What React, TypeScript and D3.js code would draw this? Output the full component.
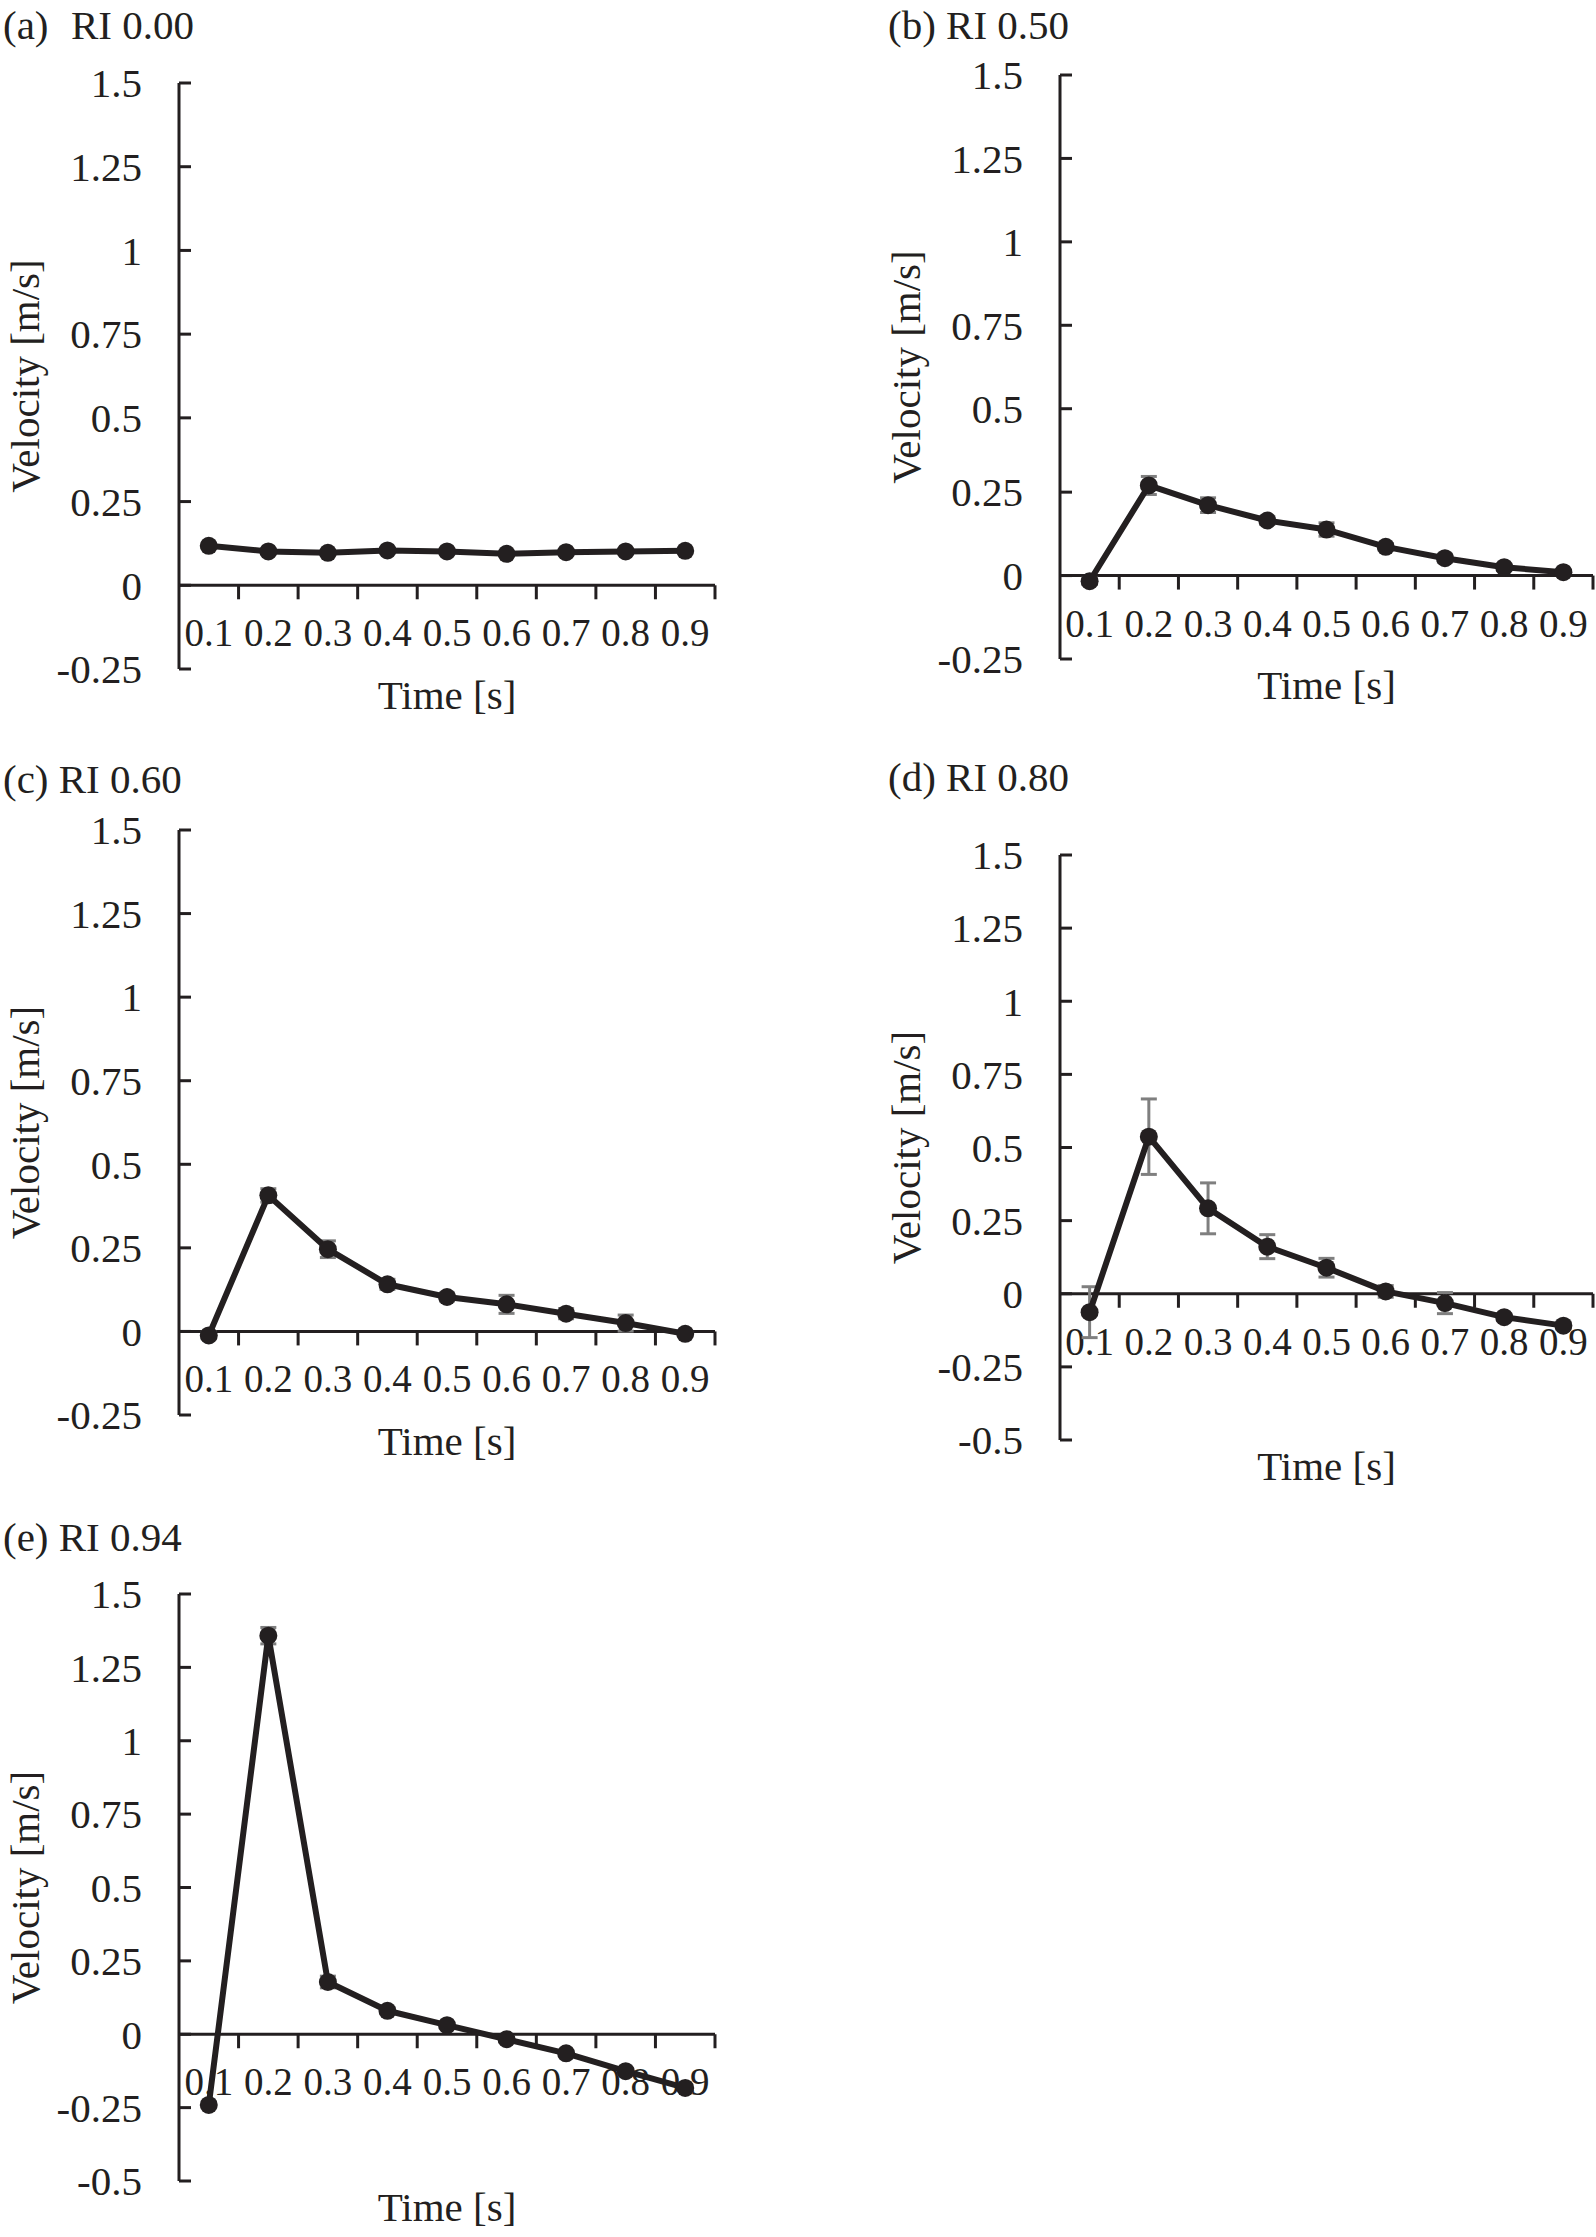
import * as d3 from 'd3';

const timeLabels = ['0.1', '0.2', '0.3', '0.4', '0.5', '0.6', '0.7', '0.8', '0.9'];

// mean velocity per panel [m/s]
const velA = [0.118, 0.101, 0.097, 0.104, 0.101, 0.094, 0.099, 0.101, 0.103];
const velB = [-0.017, 0.27, 0.211, 0.165, 0.138, 0.086, 0.052, 0.025, 0.01];
const velC = [-0.012, 0.407, 0.246, 0.141, 0.103, 0.081, 0.053, 0.025, -0.007];
const velD = [-0.063, 0.537, 0.292, 0.161, 0.089, 0.008, -0.032, -0.08, -0.109];
const velE = [-0.241, 1.358, 0.178, 0.08, 0.031, -0.017, -0.065, -0.126, -0.183];

// error bar half-lengths
const errA = [0.005, 0.005, 0.005, 0.005, 0.005, 0.005, 0.005, 0.005, 0.005];
const errB = [0.01, 0.027, 0.022, 0.012, 0.02, 0.01, 0.012, 0.01, 0.005];
const errC = [0.01, 0.02, 0.025, 0.015, 0.012, 0.027, 0.015, 0.024, 0.005];
const errD = [0.087, 0.129, 0.087, 0.041, 0.032, 0.02, 0.036, 0.012, 0.012];
const errE = [0.01, 0.028, 0.02, 0.01, 0.008, 0.008, 0.008, 0.01, 0.01];

const ticksShort = [-0.25, 0, 0.25, 0.5, 0.75, 1, 1.25, 1.5];
const ticksLong = [-0.5, -0.25, 0, 0.25, 0.5, 0.75, 1, 1.25, 1.5];

const titles = ['(a)', '(b) RI 0.50', '(c) RI 0.60', '(d) RI 0.80', '(e) RI 0.94'];

const INK = '#231f20';
const FONT = "'Liberation Serif', 'Times New Roman', Times, serif";

interface PanelProps {
  vals: number[];
  errs: number[];
  ticks: number[];
  left: number;
  right: number;
  top: number;
  bottom: number;
  title: string;
  titleX: number;
  titleY: number;
  extraTitle?: string;
}

function Panel({ vals, errs, ticks, left, right, top, bottom, title, titleX, titleY, extraTitle }: PanelProps) {
  const x = d3.scaleBand<string>().domain(timeLabels).range([left, right]).padding(0);
  const y = d3.scaleLinear().domain([ticks[0], 1.5]).range([bottom, top]);
  const cx = (i: number) => (x(timeLabels[i]) ?? 0) + x.bandwidth() / 2;
  const line = d3.line<number>().x((_, i) => cx(i)).y(d => y(d));
  const y0 = y(0);

  return (
    <g>
      <text x={titleX} y={titleY} fontSize={41} fill={INK}>{title}</text>
      {extraTitle && <text x={titleX + 68} y={titleY} fontSize={41} fill={INK}>{extraTitle}</text>}

      {/* y axis */}
      <line x1={left} x2={left} y1={top} y2={bottom} stroke={INK} strokeWidth={3} />
      {ticks.map(t => (
        <g key={t}>
          <line x1={left} x2={left + 12} y1={y(t)} y2={y(t)} stroke={INK} strokeWidth={3} />
          <text x={left - 37} y={y(t)} dy="0.35em" textAnchor="end" fontSize={41} fill={INK}>{String(t)}</text>
        </g>
      ))}

      {/* x axis at zero */}
      <line x1={left} x2={right} y1={y0} y2={y0} stroke={INK} strokeWidth={3} />
      {timeLabels.map((lab, i) => (
        <g key={lab}>
          <line x1={(x(lab) ?? 0) + x.bandwidth()} x2={(x(lab) ?? 0) + x.bandwidth()} y1={y0} y2={y0 + 14} stroke={INK} strokeWidth={3} />
          <text x={cx(i)} y={y0 + 61} textAnchor="middle" fontSize={39} fill={INK}>{lab}</text>
        </g>
      ))}

      {/* error bars */}
      {vals.map((v, i) => (
        <g key={i} stroke="#7f7f7f" strokeWidth={3}>
          <line x1={cx(i)} x2={cx(i)} y1={y(v - errs[i])} y2={y(v + errs[i])} />
          <line x1={cx(i) - 8} x2={cx(i) + 8} y1={y(v - errs[i])} y2={y(v - errs[i])} />
          <line x1={cx(i) - 8} x2={cx(i) + 8} y1={y(v + errs[i])} y2={y(v + errs[i])} />
        </g>
      ))}

      <path d={line(vals) ?? ''} fill="none" stroke={INK} strokeWidth={6} strokeLinejoin="round" />
      {vals.map((v, i) => (
        <circle key={i} cx={cx(i)} cy={y(v)} r={9} fill={INK} />
      ))}

      <text
        transform={`translate(${left - 140},${(top + bottom) / 2}) rotate(-90)`}
        textAnchor="middle"
        fontSize={41}
        fill={INK}
      >
        Velocity [m/s]
      </text>
      <text x={(left + right) / 2} y={bottom + 40} textAnchor="middle" fontSize={41} fill={INK}>Time [s]</text>
    </g>
  );
}

export default function App() {
  return (
    <svg
      width={1596}
      height={2237}
      fontFamily={FONT}
      style={{ position: 'absolute', left: 0, top: 0, background: '#fff' }}
    >
      <rect width={1596} height={2237} fill="#fff" />
      <Panel vals={velA} errs={errA} ticks={ticksShort} left={179} right={715} top={83} bottom={669}
        title={titles[0]} extraTitle="RI 0.00" titleX={3} titleY={39} />
      <Panel vals={velB} errs={errB} ticks={ticksShort} left={1060} right={1593} top={75} bottom={659}
        title={titles[1]} titleX={888} titleY={39} />
      <Panel vals={velC} errs={errC} ticks={ticksShort} left={179} right={715} top={830} bottom={1415}
        title={titles[2]} titleX={3} titleY={793} />
      <Panel vals={velD} errs={errD} ticks={ticksLong} left={1060} right={1593} top={855} bottom={1440}
        title={titles[3]} titleX={888} titleY={791} />
      <Panel vals={velE} errs={errE} ticks={ticksLong} left={179} right={715} top={1594} bottom={2181}
        title={titles[4]} titleX={3} titleY={1551} />
    </svg>
  );
}
